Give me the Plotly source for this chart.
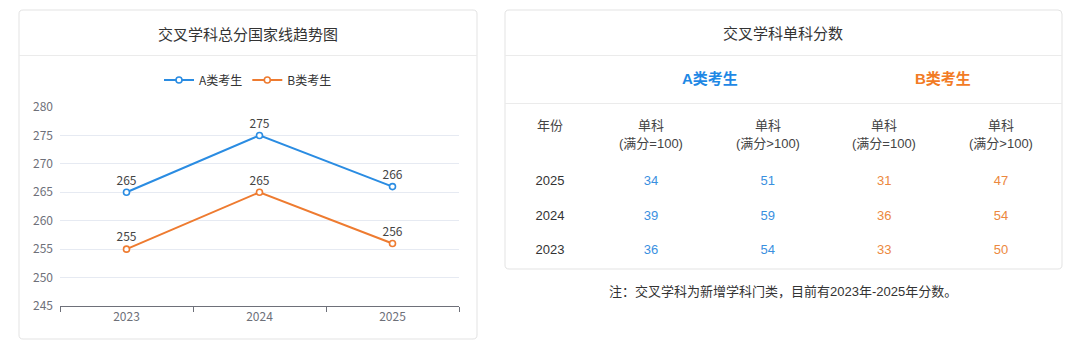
import plotly.graph_objects as go

# ---------------- data ----------------
years = ["2023", "2024", "2025"]
a_total = [265, 275, 266]
b_total = [255, 265, 256]
series_names = ["A类考生", "B类考生"]

table_years = ["2025", "2024", "2023"]
col_keys = ["A=100", "A>100", "B=100", "B>100"]
col_head1 = ["单科", "单科", "单科", "单科"]
col_head2 = ["(满分=100)", "(满分>100)", "(满分=100)", "(满分>100)"]
a_eq100 = [34, 39, 36]
a_gt100 = [51, 59, 54]
b_eq100 = [31, 36, 33]
b_gt100 = [47, 54, 50]

left_title = "交叉学科总分国家线趋势图"
right_title = "交叉学科单科分数"
year_head = "年份"
note = "注：交叉学科为新增学科门类，目前有2023年-2025年分数。"

# ---------------- styles ----------------
W, H = 1080, 348
BLUE = "#2A8CE2"
ORANGE = "#EE7B30"
BLUE_T = "#3A90DF"
ORANGE_T = "#EC8840"
CJK = "Noto Sans CJK SC"
ARIAL = "Liberation Sans, Noto Sans CJK SC"


def fx(x):
    return x / W


def fy(y):
    return 1 - y / H


def rrect(x0, y0, x1, y1, r):
    pts = [
        ("M", [(x0 + r, y0)]), ("L", [(x1 - r, y0)]), ("Q", [(x1, y0), (x1, y0 + r)]),
        ("L", [(x1, y1 - r)]), ("Q", [(x1, y1), (x1 - r, y1)]),
        ("L", [(x0 + r, y1)]), ("Q", [(x0, y1), (x0, y1 - r)]),
        ("L", [(x0, y0 + r)]), ("Q", [(x0, y0), (x0 + r, y0)]),
    ]
    s = ""
    for cmd, ps in pts:
        s += cmd + " " + " ".join(f"{fx(a):.5f},{fy(b):.5f}" for a, b in ps) + " "
    return s + "Z"


fig = go.Figure()

# ---- line chart ----
for name, vals, col in [(series_names[0], a_total, BLUE), (series_names[1], b_total, ORANGE)]:
    fig.add_trace(go.Scatter(
        x=years, y=vals, name=name, mode="lines+markers+text",
        text=[str(v) for v in vals], textposition="top center",
        textfont=dict(size=12, color="#444", family=CJK),
        line=dict(color=col, width=2),
        marker=dict(symbol="circle", size=6, color="white", line=dict(color=col, width=1.6)),
        xaxis="x", yaxis="y", hoverinfo="skip", cliponaxis=False,
    ))

# ---- table values ----
for key, vals, col in [(col_keys[0], a_eq100, BLUE_T), (col_keys[1], a_gt100, BLUE_T),
                       (col_keys[2], b_eq100, ORANGE_T), (col_keys[3], b_gt100, ORANGE_T)]:
    fig.add_trace(go.Scatter(
        x=[key] * len(vals), y=table_years, mode="text",
        text=[str(v) for v in vals], textposition="middle center",
        textfont=dict(size=13, color=col, family=ARIAL),
        xaxis="x2", yaxis="y2", showlegend=False, hoverinfo="skip",
    ))

fig.add_trace(go.Scatter(
    x=[year_head] * len(table_years), y=table_years, mode="text",
    text=table_years, textposition="middle center",
    textfont=dict(size=13, color="#333", family=ARIAL),
    xaxis="x3", yaxis="y2", showlegend=False, hoverinfo="skip",
))

# ---- cards ----
shapes = [
    dict(type="path", path=rrect(19, 10, 477, 339, 4), xref="paper", yref="paper",
         fillcolor="white", line=dict(color="#E3E3E3", width=1), layer="below"),
    dict(type="path", path=rrect(505, 10, 1062, 269, 4), xref="paper", yref="paper",
         fillcolor="white", line=dict(color="#E3E3E3", width=1), layer="below"),
    dict(type="line", xref="paper", yref="paper", x0=fx(19), x1=fx(477), y0=fy(55.5), y1=fy(55.5),
         line=dict(color="#EBEBEB", width=1), layer="below"),
    dict(type="line", xref="paper", yref="paper", x0=fx(505), x1=fx(1062), y0=fy(55.5), y1=fy(55.5),
         line=dict(color="#EBEBEB", width=1), layer="below"),
    dict(type="line", xref="paper", yref="paper", x0=fx(505), x1=fx(1062), y0=fy(103.5), y1=fy(103.5),
         line=dict(color="#EBEBEB", width=1), layer="below"),
]

annotations = [
    dict(text=left_title, x=fx(248), y=fy(33), xref="paper", yref="paper", showarrow=False,
         font=dict(size=15, color="#333", family=CJK), xanchor="center", yanchor="middle"),
    dict(text=right_title, x=fx(783), y=fy(32), xref="paper", yref="paper", showarrow=False,
         font=dict(size=15, color="#333", family=CJK), xanchor="center", yanchor="middle"),
    dict(text="<b>" + series_names[0] + "</b>", x=fx(709.5), y=fy(78), xref="paper", yref="paper",
         showarrow=False, font=dict(size=15, color="#1E88E5", family=ARIAL),
         xanchor="center", yanchor="middle"),
    dict(text="<b>" + series_names[1] + "</b>", x=fx(942.5), y=fy(78), xref="paper", yref="paper",
         showarrow=False, font=dict(size=15, color="#F27B25", family=ARIAL),
         xanchor="center", yanchor="middle"),
    dict(text=year_head, x=year_head, xref="x3", y=fy(125), yref="paper", showarrow=False,
         font=dict(size=13, color="#444", family=ARIAL), xanchor="center", yanchor="middle"),
    dict(text=note, x=fx(783), y=fy(291), xref="paper", yref="paper", showarrow=False,
         font=dict(size=13, color="#333", family=ARIAL), xanchor="center", yanchor="middle"),
]
for key, h1, h2 in zip(col_keys, col_head1, col_head2):
    annotations.append(dict(text=h1, x=key, xref="x2", y=fy(125), yref="paper", showarrow=False,
                            font=dict(size=13, color="#444", family=ARIAL),
                            xanchor="center", yanchor="middle"))
    annotations.append(dict(text=h2, x=key, xref="x2", y=fy(144), yref="paper", showarrow=False,
                            font=dict(size=13, color="#444", family=ARIAL),
                            xanchor="center", yanchor="middle"))

fig.update_layout(
    width=W, height=H, margin=dict(l=0, r=0, t=0, b=0, autoexpand=False),
    paper_bgcolor="white", plot_bgcolor="rgba(0,0,0,0)",
    showlegend=True,
    legend=dict(orientation="h", x=fx(248), xanchor="center", y=fy(80), yanchor="middle",
                font=dict(size=12, color="#333", family=CJK), bgcolor="rgba(0,0,0,0)",
                itemwidth=30, traceorder="normal"),
    xaxis=dict(domain=[fx(60), fx(459)], type="category", categoryarray=years,
               range=[-0.5, 2.5], tickson="boundaries", ticks="outside", ticklen=5,
               tickcolor="#6E7079", showline=True, linecolor="#6E7079", linewidth=1,
               showgrid=False, zeroline=False, anchor="y", automargin=False,
               tickfont=dict(size=12, color="#6E7079", family=CJK)),
    yaxis=dict(domain=[fy(306), fy(107)], range=[245, 280], dtick=5, tick0=245,
               showgrid=True, gridcolor="#E6EAF2", gridwidth=1, zeroline=False,
               showline=False, ticks="", anchor="x", ticklabelstandoff=6, automargin=False,
               tickfont=dict(size=12, color="#6E7079", family=CJK)),
    xaxis2=dict(domain=[fx(592.7), fx(1059.3)], type="category", categoryarray=col_keys,
                range=[-0.5, 3.5], visible=False, anchor="y2", automargin=False),
    yaxis2=dict(domain=[fy(268.25), fy(164.75)], type="category",
                categoryarray=["2023", "2024", "2025"], range=[-0.5, 2.5],
                visible=False, anchor="x2", automargin=False),
    xaxis3=dict(domain=[fx(520), fx(580)], type="category", categoryarray=[year_head],
                range=[-0.5, 0.5], visible=False, anchor="y2", automargin=False),
    shapes=shapes, annotations=annotations,
    hovermode=False,
)

fig.write_html("out.html")
